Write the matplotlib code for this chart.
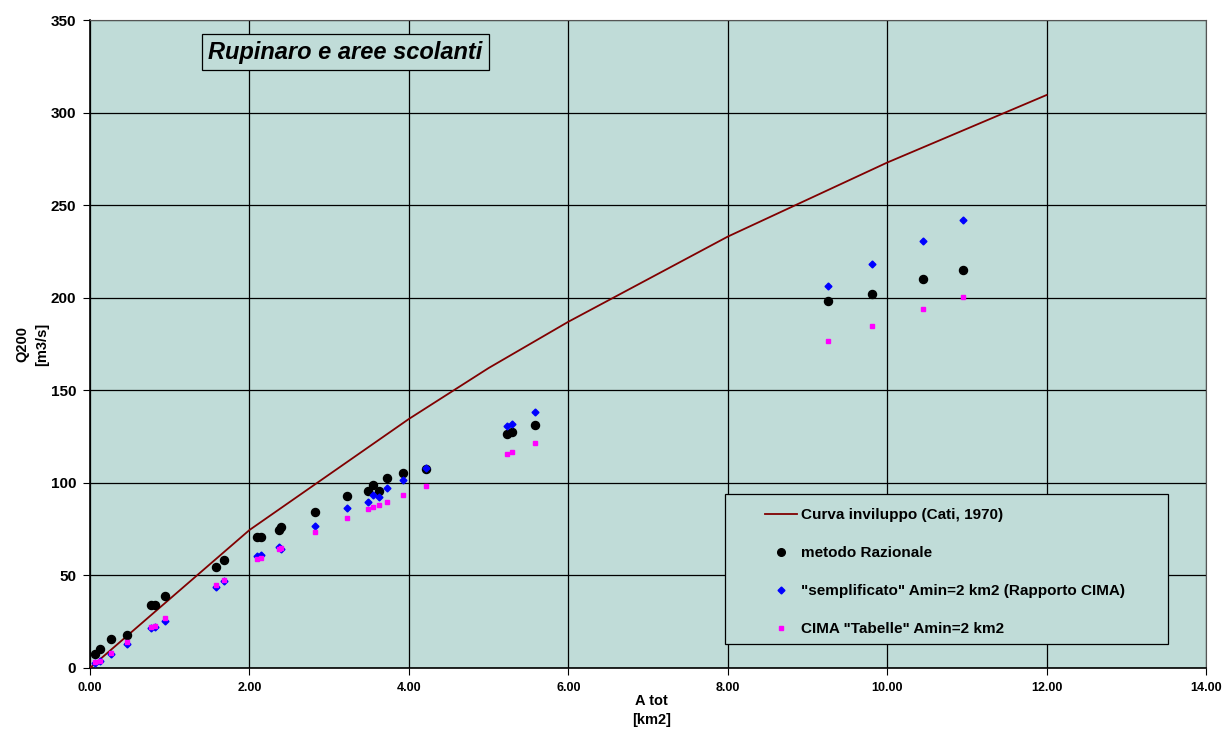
import numpy as np
import matplotlib
matplotlib.use("Agg")
import matplotlib.pyplot as plt
from matplotlib.lines import Line2D
from matplotlib.patches import Rectangle

# Envelope curve (Cati, 1970)
curve_area = [0.0, 2.0, 4.0, 5.0, 6.0, 8.0, 10.0, 12.0]
curve_q = [0.0, 74.5, 134.5, 162.0, 187.0, 233.0, 273.0, 309.5]

# Basin areas [km2]
area = [0.06, 0.12, 0.26, 0.47, 0.77, 0.81, 0.94, 1.58, 1.68, 2.10, 2.14,
        2.37, 2.40, 2.82, 3.23, 3.49, 3.55, 3.62, 3.72, 3.93, 4.21, 5.23,
        5.29, 5.58, 9.26, 9.81, 10.45, 10.95]

# Q200 [m3/s] for each method
q_razionale = [7.4, 10.4, 15.7, 17.7, 34.0, 34.0, 38.9, 54.7, 58.2, 70.6, 70.6,
               74.5, 76.0, 84.1, 93.1, 95.6, 98.7, 95.6, 102.8, 105.2, 107.5,
               126.6, 127.5, 131.4, 198.2, 202.0, 210.1, 215.0]
q_semplificato = [2.5, 4.0, 7.6, 13.0, 21.8, 22.3, 25.6, 43.6, 47.0, 60.5, 61.0,
                  65.5, 64.4, 76.9, 86.6, 89.7, 93.3, 92.5, 97.2, 101.5, 108.0,
                  130.7, 132.0, 138.1, 206.3, 218.2, 230.6, 242.0]
q_tabelle = [3.0, 4.0, 8.3, 13.9, 22.1, 22.6, 26.8, 45.0, 47.7, 58.7, 59.6,
             64.3, 64.6, 73.3, 80.8, 85.9, 86.8, 87.9, 89.8, 93.4, 98.3,
             115.6, 116.5, 121.4, 176.6, 184.7, 193.9, 200.4]

labels = ["Curva inviluppo (Cati, 1970)", "metodo Razionale",
          "\"semplificato\" Amin=2 km2 (Rapporto CIMA)",
          "CIMA \"Tabelle\" Amin=2 km2"]

bg = '#C0DCD8'
plt.rcParams['font.family'] = ['Liberation Sans', 'DejaVu Sans']

fig = plt.figure(figsize=(12.24, 7.31), dpi=100)
ax = fig.add_axes([0.0735, 0.0862, 0.9118, 0.8864])
ax.set_facecolor(bg)

ax.plot(curve_area, curve_q, color='#800000', lw=1.3, zorder=3)
ax.plot(area, q_razionale, 'o', color='black', ms=5.8, ls='none', zorder=4)
ax.plot(area, q_semplificato, 'D', color='#0000FF', ms=3.5, ls='none', zorder=5)
ax.plot(area, q_tabelle, 's', color='#FF00FF', ms=3.4, ls='none', zorder=6)

ax.set_xlim(0, 14)
ax.set_ylim(0, 350)
ax.set_xticks(np.arange(0, 15, 2))
ax.set_xticklabels(["%.2f" % v for v in np.arange(0, 15, 2)])
ax.set_yticks(np.arange(0, 351, 50))
ax.grid(True, color='black', lw=0.9)
ax.set_axisbelow(True)
for lab in ax.get_xticklabels():
    lab.set_fontweight('bold')
    lab.set_fontsize(9)
for lab in ax.get_yticklabels():
    lab.set_fontweight('bold')
    lab.set_fontsize(11)
ax.tick_params(axis='both', direction='out', length=5, color='black', pad=5)

for s in ['top', 'right']:
    ax.spines[s].set_color('#555555')
for s in ['left', 'bottom']:
    ax.spines[s].set_color('black')
    ax.spines[s].set_linewidth(1.2)

ax.set_xlabel("A tot\n[km2]", fontsize=10.5, fontweight='bold', linespacing=1.5)
ax.xaxis.set_label_coords(0.503, -0.04)
ax.set_ylabel("Q200\n[m3/s]", fontsize=10.5, fontweight='bold', linespacing=1.5)
ax.yaxis.set_label_coords(-0.037, 0.5)

ax.text(0.1057, 0.9506, "Rupinaro e aree scolanti", transform=ax.transAxes,
        fontsize=17, fontweight='bold', style='italic', va='center', ha='left',
        bbox=dict(boxstyle='square,pad=0.27', facecolor=bg,
                  edgecolor='black', lw=0.9), zorder=7)

# legend frame drawn separately, entries indented like the original
ax.add_patch(Rectangle((0.569, 0.037), 0.397, 0.2315, transform=ax.transAxes,
                       facecolor=bg, edgecolor='black', lw=0.9, zorder=8))
handles = [Line2D([], [], color='#800000', lw=1.3),
           Line2D([], [], marker='o', color='black', ms=5.5, ls='none'),
           Line2D([], [], marker='D', color='#0000FF', ms=3.5, ls='none'),
           Line2D([], [], marker='s', color='#FF00FF', ms=3.5, ls='none')]
leg = ax.legend(handles, labels, loc='upper left',
                bbox_to_anchor=(0.6045, 0.247),
                prop={'weight': 'bold', 'size': 11}, labelspacing=1.58,
                handlelength=2.1, handletextpad=0.3, borderpad=0.0,
                frameon=False, borderaxespad=0)
leg.set_zorder(9)

fig.savefig("out.png", dpi=100, facecolor='white')
